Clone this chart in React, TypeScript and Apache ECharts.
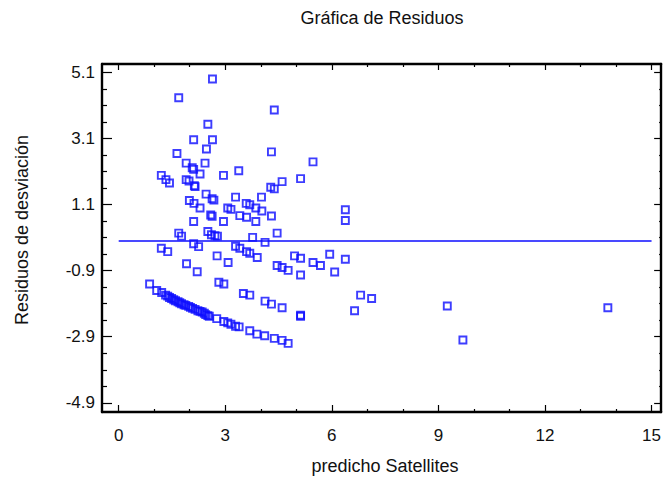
import { useEffect, useRef } from 'react';
import * as echarts from 'echarts';

const predicted = [
  2.64, 1.69, 4.38, 2.51, 2.11, 2.64, 2.47, 1.64, 4.30, 5.47,
  1.90, 2.43, 2.07, 2.11, 2.29, 2.95, 3.38, 1.20, 1.33, 1.43,
  1.90, 1.98, 2.13, 2.15, 4.60, 5.12, 4.28, 4.38, 2.46, 2.63,
  2.68, 1.99, 2.12, 2.29, 3.29, 4.02, 3.59, 3.69, 3.07, 3.16,
  3.86, 4.03, 6.38, 2.59, 2.63, 3.41, 3.60, 4.30, 2.11, 2.95,
  3.86, 6.38, 1.69, 1.77, 2.51, 2.61, 2.71, 2.78, 4.46, 3.77,
  4.12, 2.11, 2.25, 1.20, 1.38, 3.29, 3.41, 3.60, 3.69, 3.90,
  2.77, 4.95, 5.12, 5.47, 5.68, 5.94, 6.38, 6.08, 5.12, 1.91,
  2.21, 3.08, 4.46, 4.60, 4.77, 2.82, 2.96, 3.51, 3.69, 4.12,
  4.30, 4.60, 6.81, 7.12, 6.64, 5.12, 5.12, 9.25, 13.77, 9.69,
  0.87, 1.07, 1.21, 1.32, 1.38, 1.43, 1.49, 1.55, 1.60, 1.67,
  1.72, 1.77, 1.84, 1.89, 1.97, 2.02, 2.08, 2.15, 2.23, 2.29,
  2.35, 2.41, 2.45, 2.51, 2.55, 2.76, 2.96, 3.07, 3.16, 3.29,
  3.39, 3.69, 3.89, 4.11, 4.38, 4.60, 4.77,
];

const residuals = [
  4.91, 4.34, 3.97, 3.54, 3.07, 3.07, 2.79, 2.65, 2.70, 2.40,
  2.36, 2.36, 2.22, 2.17, 2.03, 1.99, 2.13, 1.99, 1.86, 1.76,
  1.86, 1.82, 1.68, 1.65, 1.80, 1.89, 1.63, 1.58, 1.42, 1.28,
  1.24, 1.23, 1.14, 1.00, 1.33, 1.33, 1.14, 1.10, 1.00, 0.96,
  1.00, 0.91, 0.95, 0.79, 0.75, 0.77, 0.72, 0.76, 0.59, 0.59,
  0.59, 0.62, 0.24, 0.15, 0.29, 0.19, 0.16, 0.15, 0.24, 0.11,
  -0.04, -0.08, -0.17, -0.22, -0.32, -0.16, -0.22, -0.32, -0.37, -0.50,
  -0.45, -0.45, -0.52, -0.65, -0.74, -0.40, -0.55, -0.94, -1.03, -0.69,
  -0.93, -0.65, -0.74, -0.80, -0.89, -1.25, -1.30, -1.59, -1.64, -1.82,
  -1.91, -2.02, -1.64, -1.74, -2.11, -2.25, -2.28, -1.97, -2.02, -3.00,
  -1.30, -1.50, -1.56, -1.64, -1.67, -1.71, -1.74, -1.78, -1.81, -1.84,
  -1.87, -1.90, -1.93, -1.95, -1.98, -2.01, -2.04, -2.07, -2.11, -2.13,
  -2.15, -2.19, -2.23, -2.26, -2.28, -2.35, -2.44, -2.48, -2.52, -2.58,
  -2.60, -2.72, -2.82, -2.87, -2.95, -3.01, -3.10,
];

const xMajorTicks = [0, 3, 6, 9, 12, 15];
const xMinorTicks = [1, 2, 4, 5, 7, 8, 10, 11, 13, 14];
const yMajorTicks = [-4.9, -2.9, -0.9, 1.1, 3.1, 5.1];
const yMinorTicks = [-4.4, -3.9, -3.4, -2.4, -1.9, -1.4, -0.4, 0.1, 0.6, 1.6, 2.1, 2.6, 3.6, 4.1, 4.6];
const refLineX = [0, 15];
const refLineY = 0;

const X_MIN = -0.47;
const X_MAX = 15.27;
const Y_MIN = -5.18;
const Y_MAX = 5.364;

const BLUE = '#0c0cff';
const FONT = '"Liberation Sans", Arial, sans-serif';

function makeAxis(
  position: string,
  min: number,
  max: number,
  ticks: number[],
  tickLen: number,
  showLine: boolean,
  labels: number[] | null
) {
  return {
    type: 'value',
    position,
    offset: 0,
    min,
    max,
    scale: true,
    splitLine: { show: false },
    axisLine: { show: showLine, onZero: false, lineStyle: { color: '#000', width: 2.4 } },
    axisTick: {
      show: true,
      inside: true,
      length: tickLen,
      customValues: ticks,
      lineStyle: { color: '#000', width: 1.2 },
    },
    axisLabel: labels
      ? {
          show: true,
          customValues: labels,
          formatter: (v: number) => (Number.isInteger(v) ? String(v) : v.toFixed(1)),
          color: '#111',
          fontFamily: FONT,
          fontSize: 17,
          margin: position === 'left' ? 7 : 15,
        }
      : { show: false },
  };
}

export default function App() {
  const ref = useRef<HTMLDivElement>(null);
  useEffect(() => {
    if (!ref.current) return;
    const chart = echarts.init(ref.current, null, { renderer: 'svg' });
    const points = predicted.map((x, i) => [x, residuals[i]]);
    chart.setOption({
      animation: false,
      backgroundColor: '#fff',
      grid: { left: 102, right: 0, top: 64, bottom: 66, containLabel: false },
      xAxis: [
        makeAxis('bottom', X_MIN, X_MAX, xMajorTicks, 7, true, xMajorTicks),
        makeAxis('bottom', X_MIN, X_MAX, xMinorTicks, 3, false, null),
        makeAxis('top', X_MIN, X_MAX, xMajorTicks, 6, true, null),
        makeAxis('top', X_MIN, X_MAX, xMinorTicks, 3, false, null),
      ],
      yAxis: [
        makeAxis('left', Y_MIN, Y_MAX, yMajorTicks, 10, true, yMajorTicks),
        makeAxis('left', Y_MIN, Y_MAX, yMinorTicks, 5, false, null),
        makeAxis('right', Y_MIN, Y_MAX, yMajorTicks, 7, true, null),
        makeAxis('right', Y_MIN, Y_MAX, yMinorTicks, 2, false, null),
      ],
      graphic: [
        {
          type: 'text',
          x: 382,
          y: 18,
          style: {
            text: 'Gráfica de Residuos',
            fontFamily: FONT,
            fontSize: 18,
            fill: '#111',
            textAlign: 'center',
            textVerticalAlign: 'middle',
          },
        },
        {
          type: 'text',
          x: 385,
          y: 466,
          style: {
            text: 'predicho Satellites',
            fontFamily: FONT,
            fontSize: 18,
            fill: '#111',
            textAlign: 'center',
            textVerticalAlign: 'middle',
          },
        },
        {
          type: 'text',
          x: 22,
          y: 230,
          rotation: Math.PI / 2,
          style: {
            text: 'Residuos de desviación',
            fontFamily: FONT,
            fontSize: 18,
            fill: '#111',
            textAlign: 'center',
            textVerticalAlign: 'middle',
          },
        },
      ],
      series: [
        {
          type: 'line',
          xAxisIndex: 0,
          yAxisIndex: 0,
          data: refLineX.map((x) => [x, refLineY]),
          symbol: 'none',
          lineStyle: { color: BLUE, width: 1.4 },
          silent: true,
          z: 1,
        },
        {
          type: 'scatter',
          xAxisIndex: 0,
          yAxisIndex: 0,
          data: points,
          symbol: 'rect',
          symbolSize: 7,
          itemStyle: { color: 'rgba(0,0,0,0)', borderColor: BLUE, borderWidth: 1.9 },
          z: 2,
        },
      ],
    });
    return () => chart.dispose();
  }, []);
  return <div ref={ref} style={{ width: 664, height: 478, position: 'absolute', left: 0, top: 0 }} />;
}
